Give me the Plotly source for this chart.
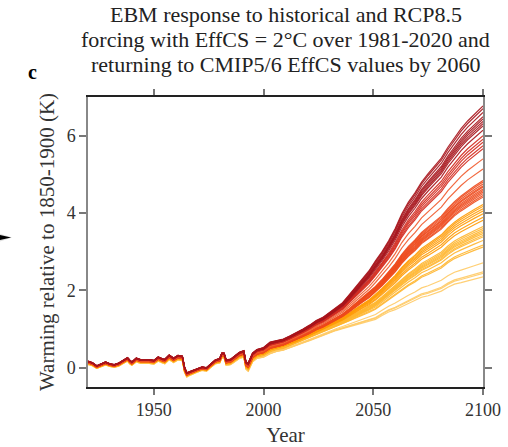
import plotly.graph_objects as go

# Time axis of the energy-balance-model runs
years = [1920, 1922, 1924, 1926, 1928, 1930, 1932, 1934, 1936, 1938, 1939, 1940,
         1942, 1944, 1946, 1948, 1950, 1952, 1954, 1955, 1957, 1959, 1961, 1963,
         1964, 1965, 1966, 1968, 1970, 1972, 1974, 1976, 1978, 1980, 1981, 1982,
         1983, 1985, 1987, 1989, 1991, 1992, 1993, 1995, 1997, 2000, 2003, 2006,
         2009, 2012, 2015, 2018, 2021, 2024, 2027, 2030, 2033, 2036, 2039, 2042,
         2045, 2048, 2051, 2054, 2057, 2060, 2063, 2066, 2069, 2072, 2075, 2078,
         2081, 2084, 2087, 2090, 2093, 2096, 2100]

# Warmest ensemble member (K relative to 1850-1900)
upper_warming = [0.17, 0.13, 0.05, 0.10, 0.15, 0.10, 0.08, 0.12, 0.20, 0.26, 0.20, 0.15,
                 0.25, 0.21, 0.21, 0.21, 0.19, 0.28, 0.23, 0.22, 0.33, 0.25, 0.32, 0.30,
                 0.02, -0.13, -0.11, -0.06, -0.02, 0.02, 0.00, 0.10, 0.20, 0.24, 0.38, 0.38,
                 0.20, 0.22, 0.32, 0.40, 0.44, 0.15, 0.12, 0.38, 0.47, 0.52, 0.66, 0.70,
                 0.74, 0.82, 0.90, 1.00, 1.10, 1.22, 1.30, 1.42, 1.55, 1.68, 1.88, 2.09,
                 2.30, 2.50, 2.76, 3.00, 3.28, 3.60, 3.98, 4.28, 4.52, 4.80, 5.02, 5.22,
                 5.42, 5.70, 5.95, 6.18, 6.38, 6.55, 6.77]

# Coolest ensemble member (K relative to 1850-1900)
lower_warming = [0.08, 0.05, -0.02, 0.03, 0.07, 0.03, 0.01, 0.04, 0.11, 0.17, 0.10, 0.06,
                 0.15, 0.11, 0.11, 0.11, 0.09, 0.17, 0.12, 0.10, 0.21, 0.13, 0.20, 0.18,
                 -0.12, -0.24, -0.21, -0.15, -0.11, -0.07, -0.09, 0.01, 0.10, 0.12, 0.25, 0.25,
                 0.06, 0.08, 0.17, 0.24, 0.27, -0.04, -0.09, 0.15, 0.24, 0.27, 0.36, 0.42,
                 0.45, 0.52, 0.57, 0.64, 0.70, 0.77, 0.83, 0.90, 0.96, 1.01, 1.06, 1.12,
                 1.16, 1.20, 1.25, 1.35, 1.44, 1.50, 1.58, 1.66, 1.73, 1.82, 1.86, 1.92,
                 1.98, 2.08, 2.16, 2.20, 2.25, 2.29, 2.35]

# Warming reached in 2100 by each member, coolest first
member_warming_2100 = [2.35, 2.44, 2.48, 2.71,
                       3.12, 3.17, 3.29, 3.38, 3.42, 3.47, 3.51, 3.55, 3.60, 3.65,
                       3.81, 3.89, 3.98, 4.05, 4.11, 4.17, 4.22,
                       4.41, 4.45, 4.50, 4.54, 4.58, 4.62, 4.67, 4.70, 4.75, 4.80, 4.84,
                       5.14, 5.40,
                       5.66, 5.74, 5.83, 5.91, 6.00,
                       6.14, 6.25, 6.31, 6.37, 6.43, 6.49, 6.60, 6.70, 6.77]

member_colors = (["#ffcb66"] * 4 + ["#ffb62e"] * 10 + ["#ff9c05"] * 7 +
                 ["#ee4a1c"] * 11 + ["#f15a2c"] * 2 + ["#d42b1f"] * 5 +
                 ["#a8151c"] * 9)

title_lines = ["EBM response to historical and RCP8.5",
               "forcing with EffCS = 2°C over 1981-2020 and",
               "returning to CMIP5/6 EffCS values by 2060"]

FONT = "'Liberation Serif', 'DejaVu Serif', serif"

fig = go.Figure()

lo_end, hi_end = lower_warming[-1], upper_warming[-1]
for end, color in zip(member_warming_2100, member_colors):
    w = (end - lo_end) / (hi_end - lo_end)
    series = [lo + w * (hi - lo) for lo, hi in zip(lower_warming, upper_warming)]
    fig.add_trace(go.Scatter(x=years, y=series, mode="lines",
                             line=dict(color=color, width=1.2),
                             opacity=0.9, showlegend=False, hoverinfo="skip"))

# arrow tip of the neighbouring panel
fig.add_shape(type="path", xref="paper", yref="paper",
              path="M -0.26 0.545 L -0.192 0.5155 L -0.26 0.486 Z",
              fillcolor="rgba(0,0,0,0.12)", line=dict(width=0))
fig.add_shape(type="path", xref="paper", yref="paper",
              path="M -0.26 0.5362 L -0.1946 0.5155 L -0.26 0.4948 Z",
              fillcolor="#000000", line=dict(width=0))

# panel letter
fig.add_annotation(text="<b>c</b>", xref="paper", yref="paper",
                   x=-0.14, y=1.085, xanchor="center", yanchor="middle",
                   showarrow=False,
                   font=dict(family=FONT, size=20, color="#000000"))

# three-line heading
for i, line in enumerate(title_lines):
    fig.add_annotation(text=line, xref="paper", yref="paper",
                       x=0.5, y=1.285 - 0.086 * i, xanchor="center", yanchor="middle",
                       showarrow=False,
                       font=dict(family=FONT, size=22, color="#222222"))

fig.update_layout(
    width=508, height=447,
    margin=dict(l=88, r=25, t=97, b=60),
    paper_bgcolor="white", plot_bgcolor="white",
    font=dict(family=FONT, size=18, color="#333333"),
    xaxis=dict(range=[1920, 2100], tickvals=[1950, 2000, 2050, 2100],
               ticks="outside", ticklen=6, tickcolor="#777777", tickwidth=1.5,
               showline=True, linecolor="#222222", linewidth=1.5, mirror="ticks",
               showgrid=False, zeroline=False, automargin=False,
               tickfont=dict(family=FONT, size=18, color="#333333"),
               title=dict(text="Year", standoff=12,
                          font=dict(family=FONT, size=21, color="#333333"))),
    yaxis=dict(range=[-0.5, 7], tickvals=[0, 2, 4, 6],
               ticks="outside", ticklen=7, tickcolor="#777777", tickwidth=1.5,
               showline=True, linecolor="#888888", linewidth=1.5, mirror="ticks",
               showgrid=False, zeroline=False, automargin=False,
               tickfont=dict(family=FONT, size=18, color="#333333"),
               title=dict(text="Warming relative to 1850-1900 (K)", standoff=6,
                          font=dict(family=FONT, size=21, color="#333333"))),
)

fig.write_html("out.html")
